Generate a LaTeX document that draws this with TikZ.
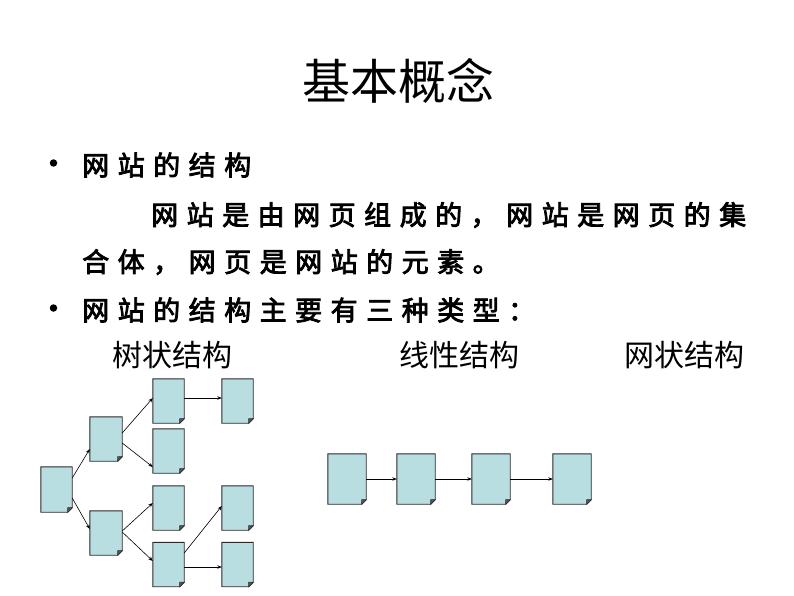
\documentclass[tikz,border=0pt]{standalone}
\usepackage{fontspec}
\usetikzlibrary{arrows.meta}
\newfontfamily\cjk{Noto Sans CJK SC}
\newfontfamily\cjkb{Noto Sans CJK SC}[FakeBold=3]
\definecolor{pagefill}{HTML}{B9DEE2}
\definecolor{pageedge}{HTML}{2A2A2A}
\def\spc#1{\ifx#1\relax\else#1\kern8.5pt\expandafter\spc\fi}
\tikzset{
  pg/.style={minimum width=31pt, minimum height=44pt, inner sep=0pt, draw=none},
  pgl/.style={minimum width=38pt, minimum height=50pt, inner sep=0pt, draw=none},
  lnk/.style={line width=0.6pt, -{Stealth[length=4.5pt,width=3.5pt]}},
  body/.style={font=\cjkb\fontsize{27}{30}\selectfont, inner sep=0pt, anchor=west},
  lbl/.style={font=\cjk\fontsize{30}{32}\selectfont, inner sep=0pt, anchor=west},
  bul/.style={circle, fill=black, minimum size=7.5pt, inner sep=0pt}
}
\begin{document}
\begin{tikzpicture}[x=1pt,y=-1pt]
\useasboundingbox[fill=white] (0,0) rectangle (794,596);
% title
\node[font=\cjk\fontsize{48}{50}\selectfont, inner sep=0pt] (title) at (398,81) {基本概念};
% bullets and text
\node[bul] (b1) at (53.5,163) {};
\node[body] (t1) at (82,165) {\spc 网站的结构\relax};
\node[body] (t2) at (151,215) {\spc 网站是由网页组成的，网站是网页的集\relax};
\node[body] (t3) at (82,262) {\spc 合体，网页是网站的元素。\relax};
\node[bul] (b2) at (53.5,308) {};
\node[body] (t4) at (82,310) {\spc 网站的结构主要有三种类型：\relax};
\node[lbl] (l1) at (112,355) {树状结构};
\node[lbl] (l2) at (399,355) {线性结构};
\node[lbl] (l3) at (624,355) {网状结构};
% tree nodes
\node[pg,minimum height=45pt] (r) at (56.5,489.5) {};
\node[pg,minimum width=32pt] (a) at (106,439) {};
\node[pg,minimum width=32pt] (b) at (106,533) {};
\node[pg] (c1) at (168.5,401) {};
\node[pg] (c2) at (168.5,451) {};
\node[pg] (c3) at (168.5,508) {};
\node[pg] (c4) at (168.5,564.5) {};
\node[pg] (d1) at (237.5,401) {};
\node[pg] (d3) at (237.5,508) {};
\node[pg] (d4) at (237.5,564.5) {};
% linear nodes
\node[pgl] (p1) at (347,479) {};
\node[pgl] (p2) at (416,479) {};
\node[pgl] (p3) at (491,479) {};
\node[pgl] (p4) at (572,479) {};
% page shapes with folded corner
\foreach \n in {r,a,b,c1,c2,c3,c4,d1,d3,d4,p1,p2,p3,p4}{
  \filldraw[fill=pagefill, draw=pageedge, line width=0.9pt, line join=miter]
    (\n.north west) -- (\n.north east) -- ([yshift=4.5pt]\n.south east)
    -- ([xshift=-4.5pt]\n.south east) -- (\n.south west) -- cycle;
  \filldraw[fill=pageedge!80, draw=pageedge, line width=0.5pt]
    ([yshift=4.5pt]\n.south east) -- ([xshift=-4.5pt]\n.south east)
    -- ([xshift=-4.5pt,yshift=4.5pt]\n.south east) -- cycle;
}
% tree links
\draw[lnk] ([yshift=11.5pt]r.east) -- ([yshift=-10pt]a.west);
\draw[lnk] ([yshift=-8.5pt]r.east) -- ([yshift=4pt]b.west);
\draw[lnk] ([yshift=6pt]a.east) -- ([yshift=3pt]c1.west);
\draw[lnk] ([yshift=-4pt]a.east) -- ([yshift=-16pt]c2.west);
\draw[lnk] ([yshift=2pt]b.east) -- ([yshift=5pt]c3.west);
\draw[lnk] ([yshift=1pt]b.east) -- ([yshift=3.5pt]c4.west);
\draw[lnk] ([yshift=3pt]c1.east) -- ([yshift=3pt]d1.west);
\draw[lnk] ([yshift=11.5pt]c4.east) -- ([yshift=2pt]d3.west);
\draw[lnk] ([yshift=-2.5pt]c4.east) -- ([yshift=-2.5pt]d4.west);
% linear links
\draw[lnk] (p1) -- (p2);
\draw[lnk] (p2) -- (p3);
\draw[lnk] (p3) -- (p4);
\end{tikzpicture}
\end{document}
